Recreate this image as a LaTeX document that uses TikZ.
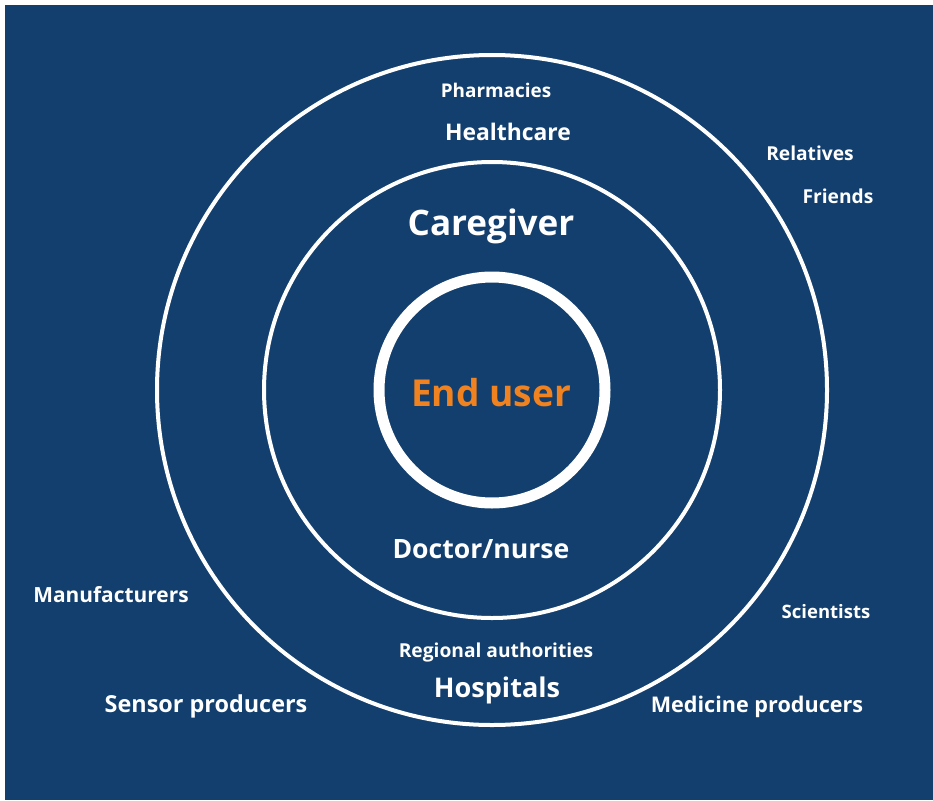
\documentclass[tikz,border=0pt]{standalone}
\usepackage{fontspec}
\setmainfont{Open Sans}[UprightFont={* Bold}]
\definecolor{bgblue}{RGB}{19,63,110}
\definecolor{enduser}{RGB}{240,130,32}
\begin{document}
\begin{tikzpicture}[x=1pt,y=-1pt,
  lbl/.style={anchor=base,text=white,inner sep=0pt,font=\bfseries},
  ring/.style={draw=white,line width=4pt},
]
\useasboundingbox (0,0) rectangle (933,800);
\fill[white] (0,0) rectangle (933,800);
\fill[bgblue] (5,5) rectangle (933,800);
\coordinate (c) at (492,390);
\draw[ring] (c) circle[radius=335];
\draw[ring] (c) circle[radius=228];
\draw[draw=white,line width=11pt] (c) circle[radius=113];
\node[lbl,font=\fontsize{18.9}{19}\selectfont] (pharm) at (496,97) {Pharmacies};
\node[lbl,font=\fontsize{22.9}{23}\selectfont] (health) at (508,140) {Healthcare};
\node[lbl,font=\fontsize{19.2}{19}\selectfont] (rel) at (810,160) {Relatives};
\node[lbl,font=\fontsize{19.2}{19}\selectfont] (friends) at (838,203) {Friends};
\node[lbl,font=\fontsize{35.1}{35}\selectfont] (care) at (491,235) {Caregiver};
\node[lbl,text=enduser,font=\fontsize{37.1}{37}\selectfont] (end) at (491,406) {End user};
\node[lbl,font=\fontsize{26.6}{27}\selectfont] (doc) at (481,558) {Doctor/nurse};
\node[lbl,font=\fontsize{20.9}{21}\selectfont] (manu) at (111,602) {Manufacturers};
\node[lbl,font=\fontsize{18.5}{19}\selectfont] (sci) at (826,618) {Scientists};
\node[lbl,font=\fontsize{19.2}{19}\selectfont] (reg) at (496,657) {Regional authorities};
\node[lbl,font=\fontsize{27.1}{27}\selectfont] (hosp) at (497,697) {Hospitals};
\node[lbl,font=\fontsize{23.4}{24}\selectfont] (sensor) at (206,712) {Sensor producers};
\node[lbl,font=\fontsize{21.6}{22}\selectfont] (med) at (757,712) {Medicine producers};
\end{tikzpicture}
\end{document}
